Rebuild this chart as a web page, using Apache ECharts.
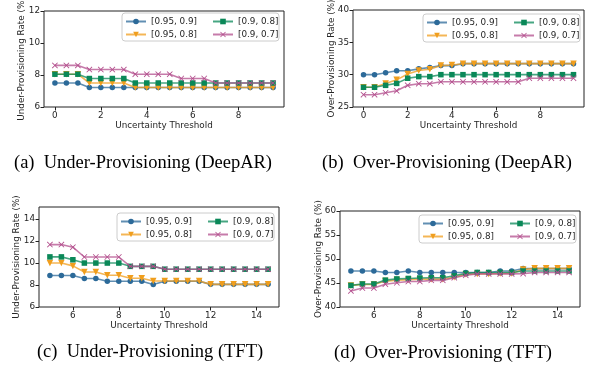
<!DOCTYPE html>
<html>
<head>
<meta charset="utf-8">
<script src="https://cdn.jsdelivr.net/npm/echarts@6/dist/echarts.min.js"></script>
<style>
  html, body { margin: 0; padding: 0; background: #fff; }
  #chart { width: 590px; height: 379px; }
</style>
</head>
<body>
<div id="chart"></div>
<script>
// x values (uncertainty threshold)
var xDeepAR = [0, 0.5, 1, 1.5, 2, 2.5, 3, 3.5, 4, 4.5, 5, 5.5, 6, 6.5, 7, 7.5, 8, 8.5, 9, 9.5];
var xTFT = [5, 5.5, 6, 6.5, 7, 7.5, 8, 8.5, 9, 9.5, 10, 10.5, 11, 11.5, 12, 12.5, 13, 13.5, 14, 14.5];

var seriesNames = ['[0.95, 0.9]', '[0.95, 0.8]', '[0.9, 0.8]', '[0.9, 0.7]'];

// (a) under-provisioning, DeepAR
var underDeepAR_95_90 = [7.5, 7.5, 7.5, 7.22, 7.22, 7.22, 7.22, 7.22, 7.22, 7.22, 7.22, 7.22, 7.22, 7.22, 7.22, 7.22, 7.22, 7.22, 7.22, 7.22];
var underDeepAR_95_80 = [8.05, 8.05, 8.05, 7.5, 7.5, 7.5, 7.5, 7.22, 7.22, 7.22, 7.22, 7.22, 7.22, 7.22, 7.22, 7.22, 7.22, 7.22, 7.22, 7.22];
var underDeepAR_90_80 = [8.05, 8.05, 8.05, 7.78, 7.78, 7.78, 7.78, 7.5, 7.5, 7.5, 7.5, 7.5, 7.5, 7.5, 7.5, 7.5, 7.5, 7.5, 7.5, 7.5];
var underDeepAR_90_70 = [8.6, 8.6, 8.6, 8.34, 8.34, 8.34, 8.34, 8.05, 8.05, 8.05, 8.05, 7.78, 7.78, 7.78, 7.5, 7.5, 7.5, 7.5, 7.5, 7.5];

// (b) over-provisioning, DeepAR
var overDeepAR_95_90 = [30.0, 30.0, 30.3, 30.6, 30.6, 30.9, 31.1, 31.4, 31.4, 31.7, 31.7, 31.7, 31.7, 31.7, 31.7, 31.7, 31.7, 31.7, 31.7, 31.7];
var overDeepAR_95_80 = [28.05, 28.05, 28.65, 29.2, 30.1, 30.65, 30.85, 31.4, 31.5, 31.7, 31.7, 31.7, 31.7, 31.7, 31.7, 31.7, 31.7, 31.7, 31.7, 31.7];
var overDeepAR_90_80 = [28.05, 28.05, 28.35, 28.65, 29.45, 29.7, 29.7, 30.0, 30.0, 30.0, 30.0, 30.0, 30.0, 30.0, 30.0, 30.0, 30.0, 30.0, 30.0, 30.0];
var overDeepAR_90_70 = [26.9, 26.9, 27.2, 27.5, 28.35, 28.6, 28.6, 28.9, 28.9, 28.9, 28.9, 28.9, 28.9, 28.9, 28.9, 29.45, 29.45, 29.45, 29.45, 29.45];

// (c) under-provisioning, TFT
var underTFT_95_90 = [8.86, 8.86, 8.86, 8.6, 8.6, 8.34, 8.34, 8.34, 8.34, 8.04, 8.34, 8.34, 8.34, 8.34, 8.06, 8.06, 8.06, 8.06, 8.06, 8.06];
var underTFT_95_80 = [10.0, 10.0, 9.74, 9.19, 9.19, 8.89, 8.89, 8.62, 8.62, 8.36, 8.36, 8.36, 8.36, 8.36, 8.06, 8.06, 8.06, 8.06, 8.06, 8.06];
var underTFT_90_80 = [10.56, 10.56, 10.3, 10.0, 10.0, 10.0, 10.0, 9.7, 9.7, 9.7, 9.44, 9.44, 9.44, 9.44, 9.44, 9.44, 9.44, 9.44, 9.44, 9.44];
var underTFT_90_70 = [11.68, 11.68, 11.44, 10.55, 10.55, 10.55, 10.55, 9.7, 9.7, 9.7, 9.44, 9.44, 9.44, 9.44, 9.44, 9.44, 9.44, 9.44, 9.44, 9.44];

// (d) over-provisioning, TFT
var overTFT_95_90 = [47.5, 47.5, 47.5, 47.2, 47.2, 47.5, 47.2, 47.2, 47.2, 47.2, 47.2, 47.2, 47.2, 47.5, 47.5, 48.0, 48.0, 48.0, 48.0, 48.0];
var overTFT_95_80 = [44.5, 44.7, 44.7, 45.4, 45.6, 45.7, 45.8, 45.8, 45.8, 46.2, 46.8, 46.9, 46.9, 47.0, 47.0, 47.8, 48.05, 48.05, 48.05, 48.05];
var overTFT_90_80 = [44.5, 44.8, 44.8, 45.6, 45.85, 45.95, 46.05, 46.1, 46.1, 46.5, 47.0, 47.2, 47.2, 47.2, 47.2, 47.5, 47.5, 47.5, 47.5, 47.5];
var overTFT_90_70 = [43.35, 43.95, 43.95, 44.75, 45.05, 45.3, 45.3, 45.55, 45.55, 46.1, 46.6, 46.9, 46.9, 46.9, 46.9, 46.95, 47.2, 47.2, 47.2, 47.2];

// tick labels
var xTicksDeepAR = [0, 2, 4, 6, 8];
var xTicksTFT = [6, 8, 10, 12, 14];
var yTicksA = [6, 8, 10, 12];
var yTicksB = [25, 30, 35, 40];
var yTicksC = [6, 8, 10, 12, 14];
var yTicksD = [40, 45, 50, 55, 60];

var captions = ['(a)  Under-Provisioning (DeepAR)', '(b)  Over-Provisioning (DeepAR)',
                '(c)  Under-Provisioning (TFT)', '(d)  Over-Provisioning (TFT)'];

var colors = ['#2c6a99', '#f09e1d', '#0a8858', '#b34f8d'];
var xPath = 'path://M1,0 L5,4 L9,0 L10,1 L6,5 L10,9 L9,10 L5,6 L1,10 L0,9 L4,5 L0,1Z';
var symbols = ['circle', 'triangle', 'rect', xPath];
var symbolRot = [0, 180, 0, 0];
var symbolSizes = [5.5, 6.5, 5.5, 6];

var txt = '#262626';
var font = 'DejaVu Sans';

// panel geometry
var panels = [
  {left: 44, top: 11, width: 240, height: 96, xTicks: xTicksDeepAR, xMin: -0.475, xMax: 9.975,
   yTicks: yTicksA, yMin: 6, yMax: 12, yName: 'Under-Provisioning Rate (%)', x: xDeepAR,
   data: [underDeepAR_95_90, underDeepAR_95_80, underDeepAR_90_80, underDeepAR_90_70],
   box: [122, 13], cap: [143, 163], nameX: 22},
  {left: 353, top: 10, width: 231, height: 97, xTicks: xTicksDeepAR, xMin: -0.475, xMax: 9.975,
   yTicks: yTicksB, yMin: 25, yMax: 40, yName: 'Over-Provisioning Rate (%)', x: xDeepAR,
   data: [overDeepAR_95_90, overDeepAR_95_80, overDeepAR_90_80, overDeepAR_90_70],
   box: [423, 14], cap: [447, 163], nameX: 332},
  {left: 39, top: 207, width: 240, height: 100, xTicks: xTicksTFT, xMin: 4.525, xMax: 14.975,
   yTicks: yTicksC, yMin: 6, yMax: 15.1, yName: 'Under-Provisioning Rate (%)', x: xTFT,
   data: [underTFT_95_90, underTFT_95_80, underTFT_90_80, underTFT_90_70],
   box: [117, 213], cap: [150, 352], nameX: 17},
  {left: 340, top: 211, width: 240, height: 96, xTicks: xTicksTFT, xMin: 4.525, xMax: 14.975,
   yTicks: yTicksD, yMin: 40, yMax: 60, yName: 'Over-Provisioning Rate (%)', x: xTFT,
   data: [overTFT_95_90, overTFT_95_80, overTFT_90_80, overTFT_90_70],
   box: [419, 215], cap: [443, 353], nameX: 319}
];

var grid = [], xAxis = [], yAxis = [], series = [], legend = [], graphic = [];

panels.forEach(function (p, i) {
  grid.push({left: p.left, top: p.top, width: p.width, height: p.height,
    show: true, borderColor: '#222', borderWidth: 1, backgroundColor: '#fff'});
  xAxis.push({
    type: 'value', gridIndex: i, min: p.xMin, max: p.xMax,
    name: 'Uncertainty Threshold', nameLocation: 'middle', nameGap: 14,
    nameTextStyle: {color: txt, fontFamily: font, fontSize: 8.8},
    axisLine: {show: false, onZero: false},
    axisTick: {show: true, length: 3.5, lineStyle: {color: '#222'}, customValues: p.xTicks},
    axisLabel: {color: txt, fontFamily: font, fontSize: 8.8, margin: 4, customValues: p.xTicks},
    splitLine: {show: false}
  });
  yAxis.push({
    type: 'value', gridIndex: i, min: p.yMin, max: p.yMax,
    axisLine: {show: false, onZero: false},
    axisTick: {show: true, length: 3.5, lineStyle: {color: '#222'}, customValues: p.yTicks},
    axisLabel: {color: txt, fontFamily: font, fontSize: 8.8, margin: 4, customValues: p.yTicks},
    splitLine: {show: false}
  });
  p.data.forEach(function (vals, k) {
    series.push({
      name: seriesNames[k], type: 'line', xAxisIndex: i, yAxisIndex: i,
      data: p.x.map(function (xv, j) { return [xv, vals[j]]; }),
      symbol: symbols[k], symbolRotate: symbolRot[k], symbolSize: symbolSizes[k],
      showAllSymbol: true,
      lineStyle: {color: colors[k], width: 1.6, opacity: 0.75},
      itemStyle: {color: colors[k]},
      emphasis: {disabled: true},
      animation: false, z: 2 + k
    });
  });
  // y axis title, drawn as rotated text
  graphic.push({type: 'text', x: p.nameX, y: p.top + p.height / 2, rotation: Math.PI / 2, z: 50,
    style: {text: p.yName, fill: txt, font: '8.8px "DejaVu Sans"',
      align: 'center', verticalAlign: 'middle', textAlign: 'center', textVerticalAlign: 'middle'}});
  // legend frame
  graphic.push({type: 'rect', z: 50,
    shape: {x: p.box[0], y: p.box[1], width: 157, height: 28, r: 3},
    style: {fill: 'rgba(255,255,255,0.85)', stroke: '#cccccc', lineWidth: 1}});
  var legStyle = {color: txt, fontFamily: font, fontSize: 8.8};
  legend.push({orient: 'vertical', left: p.box[0] + 3, top: p.box[1] + 4, padding: 0,
    itemWidth: 20, itemHeight: 7, itemGap: 4, z: 60,
    data: [seriesNames[0], seriesNames[1]], textStyle: legStyle});
  legend.push({orient: 'vertical', left: p.box[0] + 90, top: p.box[1] + 4, padding: 0,
    itemWidth: 20, itemHeight: 7, itemGap: 4, z: 60,
    data: [seriesNames[2], seriesNames[3]], textStyle: legStyle});
  graphic.push({type: 'text', x: p.cap[0], y: p.cap[1], z: 50,
    style: {text: captions[i], fill: '#000', font: '18.5px "Liberation Serif"',
      align: 'center', verticalAlign: 'middle', textAlign: 'center', textVerticalAlign: 'middle'}});
});

var chart = echarts.init(document.getElementById('chart'));
chart.setOption({
  animation: false,
  grid: grid, xAxis: xAxis, yAxis: yAxis, series: series,
  legend: legend, graphic: graphic
});
</script>
</body>
</html>
